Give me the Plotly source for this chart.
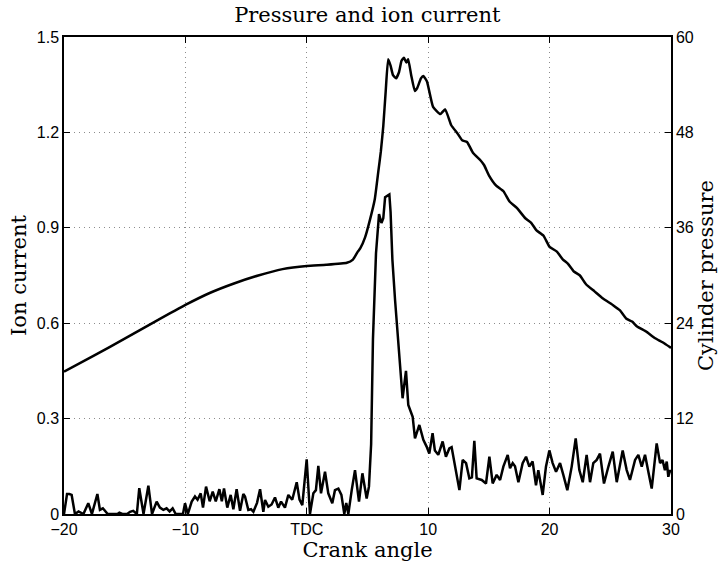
import plotly.graph_objects as go

# Cylinder pressure (right axis)
pressure_angle = [-20, -17.5, -15, -12.5, -10, -8, -6, -4, -2, 0, 1.6, 3.3, 3.8, 4.2, 4.4,
                  4.8, 5.2, 5.6, 5.9, 6.1, 6.3, 6.5, 6.7, 6.9, 7.1, 7.35, 7.6, 7.8, 8.0, 8.2,
                  8.35, 8.6, 8.9, 9.1, 9.4, 9.6, 9.9, 10.4, 11.0, 11.4, 11.9, 12.4, 12.8, 13.2,
                  13.7, 14.3, 14.6, 15.0, 15.6, 16.2, 16.7, 17.3, 18.0, 18.5, 18.9, 19.5, 20.0,
                  20.6, 21.1, 21.5, 22.0, 22.5, 23.0, 23.7, 24.4, 25.2, 25.8, 26.3, 26.8, 27.2,
                  27.9, 28.7, 29.3, 30]
pressure = [17.9, 19.95, 22.05, 24.2, 26.3, 27.8, 29.0, 30.0, 30.8, 31.2, 31.35, 31.6, 32.0, 33.0,
            33.4, 34.8, 37.0, 39.6, 43.2, 45.6, 48.8, 53.2, 57.2, 56.4, 55.2, 54.8, 55.6, 57.0,
            57.4, 56.8, 57.2, 55.2, 53.2, 53.6, 54.8, 55.1, 54.4, 51.2, 50.3, 50.9, 48.9, 47.9,
            47.0, 46.8, 45.4, 44.5, 43.9, 42.6, 41.3, 40.6, 39.3, 38.5, 37.2, 36.6, 35.7, 35.0,
            33.6, 33.0, 32.0, 31.5, 30.5, 30.0, 28.9, 28.0, 27.1, 26.3, 25.6, 24.6, 24.2, 23.6,
            23.0, 22.1, 21.6, 20.9]

# Ion current (left axis)
ion_angle = [-20, -19.75, -19.56, -19.37, -19.1, -18.8, -18.4, -18.0, -17.7, -17.25, -17.04, -16.8,
             -16.4, -16.0, -15.6, -15.44, -15.2, -14.8, -14.56, -14.3, -14.0, -13.8, -13.45, -13.05,
             -12.75, -12.37, -12.1, -11.82, -11.55, -11.3, -11.05, -10.8, -10.5, -10.2, -10.03,
             -9.8, -9.48, -9.21, -9.0, -8.74, -8.55, -8.3, -8.0, -7.75, -7.5, -7.2, -7.0, -6.82,
             -6.55, -6.27, -6.05, -5.78, -5.5, -5.23, -5.09, -4.82, -4.6, -4.4, -4.1, -3.85,
             -3.58, -3.44, -3.17, -2.9, -2.62, -2.35, -2.12, -1.8, -1.52, -1.2, -0.83, -0.6,
             -0.37, -0.01, 0.26, 0.54, 0.75, 0.95, 1.17, 1.5, 1.77, 2.1, 2.32, 2.6, 2.85, 3.09,
             3.25, 3.42, 3.7, 3.97, 4.3, 4.58, 4.93, 5.12, 5.3, 5.45, 5.7, 5.95, 6.15, 6.3, 6.45,
             6.8, 6.9, 7.05, 7.27, 7.54, 7.89, 8.17, 8.36, 8.72, 8.91, 9.27, 9.6, 9.87, 10.09,
             10.36, 10.55, 10.83, 11.19, 11.46, 11.74, 11.93, 12.21, 12.57, 12.84, 13.12, 13.39,
             13.6, 13.8, 13.99, 14.41, 14.76, 15.04, 15.31, 15.64, 15.92, 16.19, 16.55, 16.74,
             16.96, 17.15, 17.43, 17.78, 18.06, 18.33, 18.6, 18.88, 19.07, 19.43, 19.7, 19.98,
             20.25, 20.53, 20.86, 21.13, 21.46, 21.82, 22.15, 22.45, 22.73, 23.05, 23.33, 23.6,
             23.88, 24.15, 24.48, 24.85, 25.2, 25.53, 26.02, 26.35, 26.62, 27.04, 27.31, 27.59,
             27.86, 28.15, 28.41, 28.82, 29.1, 29.3, 29.5, 29.65, 29.78, 29.92, 30]
ion_current = [0.0, 0.063, 0.063, 0.06, 0.0, 0.008, 0.0, 0.034, 0.0, 0.063, 0.013, 0.018,
               0.0, 0.0, 0.0, 0.004, 0.0, 0.0, 0.007, 0.01, 0.0, 0.081, 0.0, 0.089,
               0.0, 0.039, 0.02, 0.013, 0.018, 0.008, 0.018, 0.0, 0.0, 0.0, 0.034,
               0.0, 0.039, 0.055, 0.045, 0.065, 0.02, 0.086, 0.04, 0.07, 0.04, 0.078, 0.04, 0.08,
               0.02, 0.06, 0.015, 0.078, 0.01, 0.063, 0.055, 0.013, 0.015, 0.007, 0.035, 0.078,
               0.007, 0.044, 0.023, 0.03, 0.052, 0.02, 0.039, 0.02, 0.06, 0.045, 0.10, 0.045,
               0.028, 0.172, 0.0, 0.065, 0.075, 0.151, 0.065, 0.133, 0.065, 0.034, 0.075, 0.08, 0.06, 0.0,
               0.035, 0.0, 0.075, 0.138, 0.039, 0.128, 0.049, 0.086, 0.22, 0.55, 0.82, 0.943, 0.915, 0.93, 0.996,
               1.005, 0.95, 0.8, 0.673, 0.526, 0.364, 0.45, 0.343, 0.306, 0.238, 0.28, 0.233, 0.212, 0.19,
               0.254, 0.2, 0.186, 0.228, 0.18, 0.206, 0.21, 0.149, 0.075, 0.17, 0.16, 0.112,
               0.115, 0.23, 0.112, 0.107, 0.096, 0.18, 0.096, 0.123, 0.107, 0.149, 0.186, 0.144,
               0.16, 0.15, 0.10, 0.16, 0.18, 0.149, 0.165, 0.09, 0.138, 0.06, 0.149, 0.2,
               0.16, 0.133, 0.16, 0.123, 0.075, 0.149, 0.238, 0.138, 0.10, 0.186, 0.10, 0.16,
               0.17, 0.19, 0.096, 0.15, 0.196, 0.10, 0.2, 0.138, 0.107, 0.17, 0.186, 0.149,
               0.186, 0.13, 0.08, 0.222, 0.16, 0.17, 0.138, 0.165, 0.117, 0.138, 0.13]

x_ticks = [-20, -10, 0, 10, 20, 30]
x_tick_labels = ["\u221220", "\u221210", "TDC", "10", "20", "30"]
ion_ticks = [0, 0.3, 0.6, 0.9, 1.2, 1.5]
ion_tick_labels = ["0", "0.3", "0.6", "0.9", "1.2", "1.5"]
pressure_ticks = [0, 12, 24, 36, 48, 60]

serif = "DejaVu Serif"
sans = "Liberation Sans"
title_font = dict(family=serif, size=21, color="black")

fig = go.Figure()
fig.add_trace(go.Scatter(x=pressure_angle, y=pressure, yaxis="y2", mode="lines",
                         line=dict(color="black", width=2.5, shape="spline", smoothing=0.4),
                         showlegend=False))
fig.add_trace(go.Scatter(x=ion_angle, y=ion_current, mode="lines",
                         line=dict(color="black", width=2.5), showlegend=False))

axis_common = dict(showline=True, linecolor="black", linewidth=1.5, ticks="inside",
                   ticklen=6, tickcolor="black", zeroline=False, automargin=False,
                   tickfont=dict(family=sans, size=16, color="black"))
grid = dict(showgrid=True, gridcolor="#8c8c8c", griddash="1px,4px", gridwidth=1)

fig.update_layout(
    width=723, height=566,
    margin=dict(l=64, r=52, t=37, b=52),
    paper_bgcolor="white", plot_bgcolor="white",
    title=dict(text="Pressure and ion current", x=0.508, xanchor="center", y=0.975, yanchor="middle",
               font=title_font),
    xaxis=dict(range=[-20, 30], tickvals=x_ticks, ticktext=x_tick_labels, mirror="ticks",
               title=dict(text="Crank angle", font=title_font, standoff=0),
               **grid, **axis_common),
    yaxis=dict(range=[0, 1.5], tickvals=ion_ticks, ticktext=ion_tick_labels, mirror=True,
               title=dict(text="Ion current", font=title_font, standoff=4),
               **grid, **axis_common),
    yaxis2=dict(range=[0, 60], tickvals=pressure_ticks, overlaying="y", side="right", showgrid=False,
                title=dict(text="Cylinder pressure", font=title_font, standoff=0),
                **axis_common),
)

fig.write_html("out.html", config={"displayModeBar": False},
               post_script="document.body.style.margin='0';")
